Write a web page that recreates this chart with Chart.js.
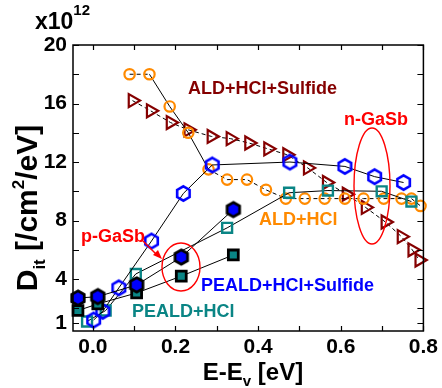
<!DOCTYPE html>
<html>
<head>
<meta charset="utf-8">
<script src="https://cdn.jsdelivr.net/npm/chart.js@4.4.1/dist/chart.umd.min.js"></script>
<style>
  html, body { margin: 0; padding: 0; background: #fff; }
  canvas { display: block; }
</style>
</head>
<body>
<canvas id="ditChart" width="442" height="388"></canvas>
<script>
// values (Dit in units of 1e12 /cm2/eV)
const aldSulfE   = [0.096, 0.140, 0.188, 0.231, 0.287, 0.333, 0.378, 0.424, 0.470, 0.520, 0.566, 0.614, 0.660, 0.708, 0.747, 0.773, 0.790];
const aldSulfDit = [16.2, 15.5, 14.7, 14.2, 13.75, 13.6, 13.3, 12.9, 12.5, 11.6, 10.6, 9.8, 8.9, 7.9, 6.9, 6.0, 5.3];

const aldHclE    = [0.089, 0.137, 0.186, 0.231, 0.280, 0.325, 0.373, 0.419, 0.467, 0.513, 0.561, 0.610, 0.655, 0.704, 0.747, 0.771, 0.793];
const aldHclDit  = [18.0, 18.0, 15.8, 14.0, 11.5, 10.8, 10.8, 10.1, 9.5, 9.5, 9.5, 9.5, 9.5, 9.5, 9.5, 9.5, 9.0];

const pealdSulfNE   = [0.002, 0.024, 0.063, 0.142, 0.219, 0.289, 0.477, 0.610, 0.682, 0.752];
const pealdSulfNDit = [1.2, 1.8, 3.4, 6.6, 9.85, 11.8, 12.0, 11.7, 11.0, 10.6];

const pealdSulfPE   = [-0.036, 0.012, 0.106, 0.214, 0.340];
const pealdSulfPDit = [2.7, 2.8, 3.6, 5.5, 8.75];

const pealdHclNE    = [-0.014, 0.031, 0.104, 0.325, 0.475, 0.569, 0.699, 0.771];
const pealdHclNDit  = [1.1, 1.85, 4.35, 7.5, 9.9, 10.05, 10.0, 9.3];

const pealdHclPE    = [-0.036, 0.012, 0.106, 0.214, 0.340];
const pealdHclPDit  = [1.85, 2.3, 3.05, 4.2, 5.65];

const xTickValues = [0, 0.1, 0.2, 0.3, 0.4, 0.5, 0.6, 0.7, 0.8];
const xTickLabels = [0, 0.2, 0.4, 0.6, 0.8];
const yTickValues = [1, 2, 4, 6, 8, 10, 12, 14, 16, 18, 20];
const yTickLabels = [1, 4, 8, 12, 16, 20];

const FONT = "'Liberation Sans', Arial, sans-serif";
const ORANGE = '#ff8a00', DARKRED = '#850000', BLUE = '#0000ff', TEAL = '#0a8585', RED = '#ff0000';

const pts = (xs, ys) => xs.map((x, i) => ({ x: x, y: ys[i] }));

function hexImg(fill, stroke, lw, r) {
  const c = document.createElement('canvas');
  const s = Math.ceil(2 * r + lw + 2);
  c.width = c.height = s;
  const g = c.getContext('2d');
  g.beginPath();
  for (let i = 0; i < 6; i++) {
    const a = -Math.PI / 2 + i * Math.PI / 3;
    const px = s / 2 + r * Math.cos(a), py = s / 2 + r * Math.sin(a);
    if (i === 0) g.moveTo(px, py); else g.lineTo(px, py);
  }
  g.closePath();
  if (fill) { g.fillStyle = fill; g.fill(); }
  g.lineWidth = lw;
  g.strokeStyle = stroke;
  g.stroke();
  return c;
}

const hexHollow = hexImg(null, BLUE, 2.6, 7.2);
const hexFilled = hexImg(BLUE, '#000', 2.8, 7.2);

const base = { borderColor: '#000', borderWidth: 1, clip: false, showLine: true, tension: 0 };

const datasets = [
  { ...base, label: 'PEALD+HCl+Sulfide (p)', data: pts(pealdSulfPE, pealdSulfPDit),
    pointStyle: hexFilled },
  { ...base, label: 'PEALD+HCl (p)', data: pts(pealdHclPE, pealdHclPDit),
    pointStyle: 'rect', pointRadius: 7, pointBackgroundColor: TEAL, pointBorderColor: '#000', pointBorderWidth: 2.8 },
  { ...base, label: 'PEALD+HCl+Sulfide (n)', data: pts(pealdSulfNE, pealdSulfNDit),
    pointStyle: hexHollow },
  { ...base, label: 'PEALD+HCl (n)', data: pts(pealdHclNE, pealdHclNDit),
    pointStyle: 'rect', pointRadius: 7, pointBackgroundColor: 'rgba(0,0,0,0)', pointBorderColor: TEAL, pointBorderWidth: 2.4 },
  { ...base, label: 'ALD+HCl', data: pts(aldHclE, aldHclDit),
    pointStyle: 'circle', pointRadius: 5.2, pointBackgroundColor: 'rgba(0,0,0,0)', pointBorderColor: ORANGE, pointBorderWidth: 2.2,
    segment: { borderDash: c => (c.p0DataIndex === 0 || c.p0DataIndex >= 4) ? [4, 3] : [] } },
  { ...base, label: 'ALD+HCl+Sulfide', data: pts(aldSulfE, aldSulfDit), borderDash: [4, 3],
    pointStyle: 'triangle', rotation: 90, pointRadius: 7.5, pointBackgroundColor: 'rgba(0,0,0,0)', pointBorderColor: DARKRED, pointBorderWidth: 2.2 }
];

function rich(ctx, parts, x, y, align) {
  let w = 0;
  parts.forEach(p => { ctx.font = 'bold ' + p[1] + 'px ' + FONT; w += ctx.measureText(p[0]).width; });
  let cx = align === 'center' ? x - w / 2 : x;
  parts.forEach(p => {
    ctx.font = 'bold ' + p[1] + 'px ' + FONT;
    ctx.fillText(p[0], cx, y + (p[2] || 0));
    cx += ctx.measureText(p[0]).width;
  });
}

const decor = {
  id: 'decor',
  afterDraw(chart) {
    const ctx = chart.ctx, a = chart.chartArea;
    const xs = chart.scales.x, ys = chart.scales.y;
    ctx.save();
    // frame and inward ticks
    ctx.strokeStyle = '#000';
    ctx.lineWidth = 1.5;
    ctx.strokeRect(a.left, a.top, a.right - a.left, a.bottom - a.top);
    ctx.lineWidth = 1.2;
    ctx.beginPath();
    xTickValues.forEach(v => {
      const px = Math.round(xs.getPixelForValue(v)) + 0.5;
      ctx.moveTo(px, a.bottom); ctx.lineTo(px, a.bottom - 5);
      ctx.moveTo(px, a.top); ctx.lineTo(px, a.top + 5);
    });
    yTickValues.forEach(v => {
      const py = Math.round(ys.getPixelForValue(v)) + 0.5;
      ctx.moveTo(a.left, py); ctx.lineTo(a.left + 6, py);
      ctx.moveTo(a.right, py); ctx.lineTo(a.right - 6, py);
    });
    ctx.stroke();

    ctx.textBaseline = 'alphabetic';
    ctx.textAlign = 'left';
    ctx.fillStyle = '#000';
    // multiplier
    rich(ctx, [['x10', 23], ['12', 15, -14]], 35, 29, 'left');
    // x title
    rich(ctx, [['E-E', 24], ['v', 15, 6], [' [eV]', 24]], 253, 380, 'center');
    // y title
    ctx.save();
    ctx.translate(37, 208);
    ctx.rotate(-Math.PI / 2);
    rich(ctx, [['D', 30], ['it', 17, 8], [' [/cm', 30], ['2', 17, -13], ['/eV]', 30]], 0, 0, 'center');
    ctx.restore();

    // labels
    ctx.font = 'bold 18px ' + FONT;
    ctx.fillStyle = DARKRED; ctx.fillText('ALD+HCl+Sulfide', 188, 94);
    ctx.fillStyle = RED;     ctx.fillText('n-GaSb', 344, 125);
    ctx.fillStyle = ORANGE;  ctx.fillText('ALD+HCl', 259, 225);
    ctx.fillStyle = RED;     ctx.fillText('p-GaSb', 81, 242);
    ctx.fillStyle = BLUE;    ctx.fillText('PEALD+HCl+Sulfide', 201, 291);
    ctx.fillStyle = TEAL;    ctx.fillText('PEALD+HCl', 132, 317);

    // ellipses and arrow
    ctx.strokeStyle = RED;
    ctx.lineWidth = 1.4;
    ctx.beginPath(); ctx.ellipse(372, 186, 18, 58, 0, 0, Math.PI * 2); ctx.stroke();
    ctx.beginPath(); ctx.ellipse(181, 267, 19, 24, 0, 0, Math.PI * 2); ctx.stroke();
    ctx.beginPath(); ctx.moveTo(143, 241); ctx.lineTo(158, 256); ctx.stroke();
    ctx.fillStyle = RED;
    ctx.beginPath(); ctx.moveTo(162, 259); ctx.lineTo(153, 255); ctx.lineTo(158, 250); ctx.closePath(); ctx.fill();
    ctx.restore();
  }
};

new Chart(document.getElementById('ditChart'), {
  type: 'line',
  data: { datasets: datasets },
  options: {
    responsive: false,
    animation: false,
    devicePixelRatio: 1,
    layout: { autoPadding: false, padding: { left: 0, top: 45, right: 17, bottom: 0 } },
    plugins: { legend: { display: false }, tooltip: { enabled: false } },
    scales: {
      x: {
        type: 'linear', min: -0.048, max: 0.8,
        grid: { display: false, drawTicks: false }, border: { display: false },
        afterBuildTicks: s => { s.ticks = xTickValues.map(v => ({ value: v })); },
        afterFit: s => { s.height = 57; },
        ticks: {
          padding: 4, maxRotation: 0, autoSkip: false, color: '#000',
          font: { family: FONT, size: 21, weight: 'bold' },
          callback: v => xTickLabels.some(t => Math.abs(t - v) < 1e-6) ? v.toFixed(1) : ''
        }
      },
      y: {
        type: 'linear', min: 0.45, max: 20,
        grid: { display: false, drawTicks: false }, border: { display: false },
        afterBuildTicks: s => { s.ticks = yTickValues.map(v => ({ value: v })); },
        afterFit: s => { s.width = 73; },
        ticks: {
          padding: 6, autoSkip: false, color: '#000',
          font: { family: FONT, size: 21, weight: 'bold' },
          callback: v => yTickLabels.includes(v) ? String(v) : ''
        }
      }
    }
  },
  plugins: [decor]
});
</script>
</body>
</html>
